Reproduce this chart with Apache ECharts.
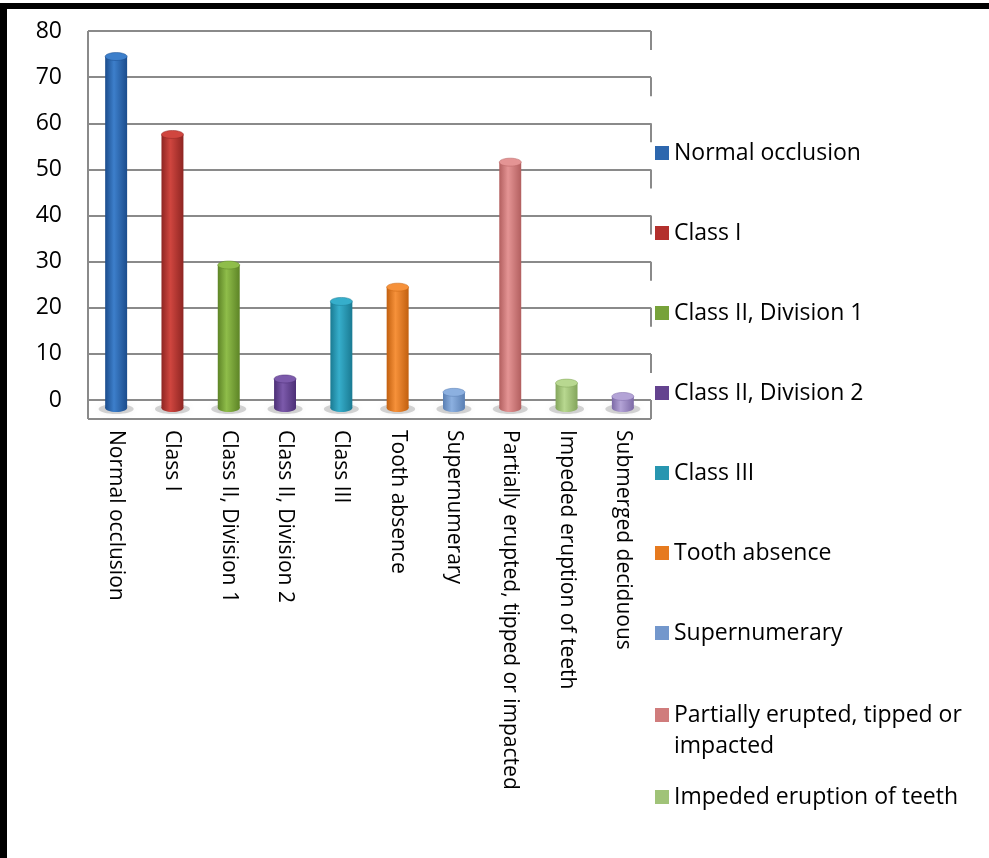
<!DOCTYPE html>
<html>
<head>
<meta charset="utf-8">
<script src="https://cdn.jsdelivr.net/npm/echarts@6/dist/echarts.min.js"></script>
<style>
  html, body { margin: 0; padding: 0; background: #fff; }
  #chart { position: absolute; left: 0; top: 0; width: 989px; height: 858px; }
  #frame {
    position: absolute; left: 0; top: 3px; width: 989px; height: 855px;
    border-left: 7px solid #000; border-top: 6px solid #000;
    box-sizing: border-box; pointer-events: none;
  }
</style>
</head>
<body>
<div id="chart"></div>
<div id="frame"></div>
<script>
const categories = [
  'Normal occlusion',
  'Class I',
  'Class II, Division 1',
  'Class II, Division 2',
  'Class III',
  'Tooth absence',
  'Supernumerary',
  'Partially erupted, tipped or impacted',
  'Impeded eruption of teeth',
  'Submerged deciduous'
]
const values = [76.2, 59.3, 31, 6.3, 23.1, 26.2, 3.4, 53.3, 5.4, 2.5]
const yTicks = [0, 10, 20, 30, 40, 50, 60, 70, 80]

// [dark edge, light centre, legend colour]
const palette = [
  ['#1b4c8c', '#3d7fcb', '#2d67ae'],
  ['#8e2522', '#d0463f', '#b3302d'],
  ['#5d8426', '#8fbd4a', '#77a23a'],
  ['#4c2f76', '#7c5aab', '#64438f'],
  ['#1a7a92', '#36aecb', '#2896b0'],
  ['#c2600f', '#f6913a', '#e67a1f'],
  ['#5a7fb3', '#8cb0e0', '#7397cc'],
  ['#b25f5f', '#e49494', '#d07c7c'],
  ['#83a55b', '#b8d890', '#a0c378'],
  ['#7c69a6', '#b3a3d6', '#9a88c2']
]

const DEPTH = 8 // front-projection of the 3D floor
const DROP = 19 // side wall drop at the right end of gridlines
const GRID_COLOR = '#8a8a8a'

const chart = echarts.init(document.getElementById('chart'))

function renderCylinder(params, api) {
  const idx = api.value(0)
  const v = api.value(1)
  const pal = palette[idx]
  const top = api.coord([idx, v])
  const base = api.coord([idx, 0])
  const w = api.size([1, 0])[0] * 0.39
  const rx = w / 2
  const ry = 4
  const cx = top[0]
  const yTop = top[1] + DEPTH
  const yBase = base[1] + DEPTH
  const body = new echarts.graphic.LinearGradient(0, 0, 1, 0, [
    { offset: 0, color: pal[0] },
    { offset: 0.4, color: pal[1] },
    { offset: 1, color: pal[0] }
  ])
  return {
    type: 'group',
    children: [
      {
        type: 'ellipse',
        shape: { cx: cx, cy: yBase + 1, rx: rx * 1.6, ry: 5 },
        style: { fill: 'rgba(0,0,0,0.16)', shadowBlur: 8, shadowColor: 'rgba(0,0,0,0.35)' },
        z2: 1
      },
      {
        type: 'ellipse',
        shape: { cx: cx, cy: yBase, rx: rx, ry: ry },
        style: { fill: body },
        z2: 2
      },
      {
        type: 'rect',
        shape: { x: cx - rx, y: yTop, width: w, height: yBase - yTop },
        style: { fill: body },
        z2: 3
      },
      {
        type: 'ellipse',
        shape: { cx: cx, cy: yTop, rx: rx, ry: ry },
        style: { fill: pal[1], stroke: pal[0], lineWidth: 0.5 },
        z2: 4
      }
    ]
  }
}

function renderFrame(params, api) {
  const half = api.size([1, 0])[0] / 2
  const left = api.coord([0, 0])[0] - half
  const right = api.coord([categories.length - 1, 0])[0] + half
  const y0 = api.coord([0, 0])[1]
  const yMax = api.coord([0, yTicks[yTicks.length - 1]])[1]
  const style = { stroke: GRID_COLOR, lineWidth: 2 }
  const children = [
    { type: 'line', shape: { x1: left, y1: yMax, x2: left, y2: y0 + DROP }, style: style },
    { type: 'line', shape: { x1: left, y1: y0 + DROP, x2: right, y2: y0 + DROP }, style: style }
  ]
  yTicks.forEach(function (t) {
    const y = api.coord([0, t])[1]
    children.push({ type: 'line', shape: { x1: right, y1: y, x2: right, y2: y + DROP }, style: style })
  })
  return { type: 'group', children: children }
}

const series = [
  {
    name: 'frame',
    type: 'custom',
    renderItem: renderFrame,
    data: [[0, 0]],
    clip: false,
    silent: true,
    z: 1
  }
]
categories.forEach(function (name, i) {
  series.push({
    name: name,
    type: 'custom',
    renderItem: renderCylinder,
    itemStyle: { color: palette[i][2] },
    encode: { x: 0, y: 1 },
    data: [[i, values[i]]],
    clip: false,
    z: 3
  })
})

const legendBase = {
  orient: 'vertical',
  left: 655,
  padding: 0,
  icon: 'rect',
  itemWidth: 14,
  itemHeight: 14,
  itemGap: 57,
  textStyle: { fontFamily: 'Open Sans', fontSize: 23, color: '#000', lineHeight: 23 }
}

// the reference is cropped below "Impeded eruption of teeth", so the last entry is not visible
const option = {
  animation: false,
  backgroundColor: '#fff',
  textStyle: { fontFamily: 'Open Sans' },
  grid: { left: 88, right: 338, top: 31, bottom: 458 },
  legend: [
    Object.assign({}, legendBase, { top: 141.5, data: categories.slice(0, 7) }),
    Object.assign({}, legendBase, {
      top: 668.5,
      data: [categories[7]],
      formatter: function (name) { return '\n' + name.replace(/ (impacted)$/, '\n$1') },
      textStyle: { fontFamily: 'Open Sans', fontSize: 23, color: '#000', lineHeight: 31 }
    }),
    Object.assign({}, legendBase, { top: 785.5, data: [categories[8]] })
  ],
  xAxis: {
    type: 'category',
    data: categories,
    axisLine: { show: false },
    axisTick: { show: false },
    axisLabel: {
      rotate: -90,
      interval: 0,
      margin: 30,
      fontSize: 21,
      fontFamily: 'Open Sans',
      color: '#000'
    }
  },
  yAxis: {
    type: 'value',
    min: 0,
    max: 80,
    interval: 10,
    axisLine: { show: false },
    axisTick: { show: false },
    axisLabel: { margin: 26, fontSize: 23, fontFamily: 'Open Sans', color: '#000' },
    splitLine: { lineStyle: { color: GRID_COLOR, width: 2 } }
  },
  series: series
}

chart.setOption(option)
window.addEventListener('resize', function () { chart.resize() })
</script>
</body>
</html>
